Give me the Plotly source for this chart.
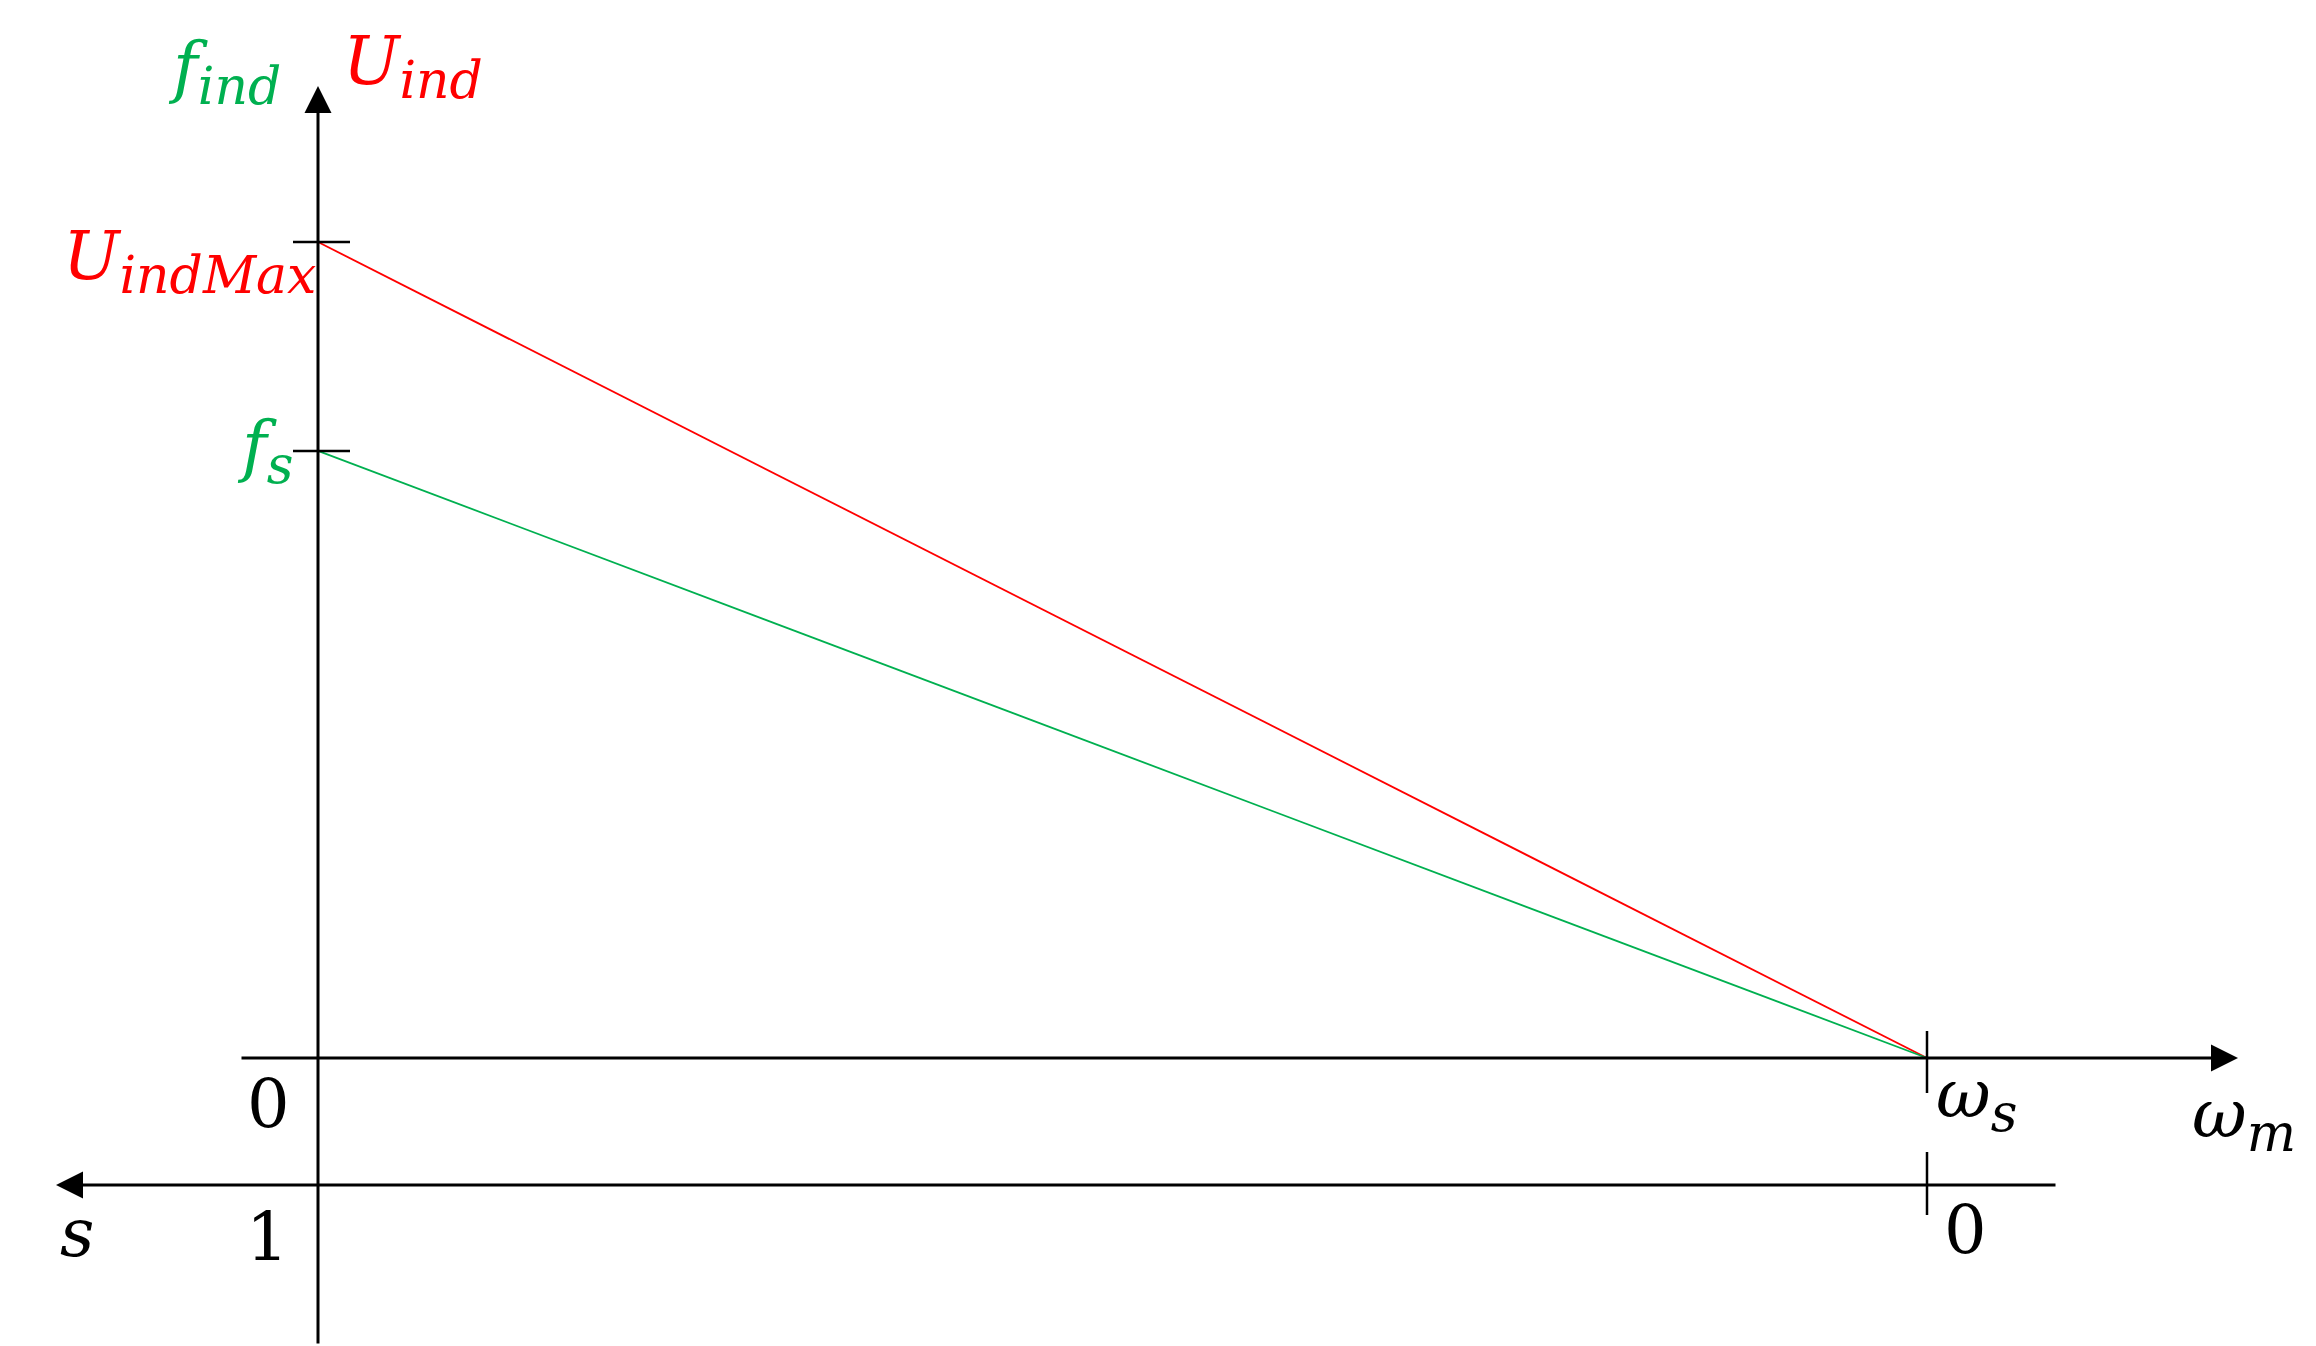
import plotly.graph_objects as go

# speed axis (per unit of synchronous speed) and the two induced quantities
omega_m = [0.0, 1.0]          # 0 ... omega_s
u_ind = [1.0, 0.0]            # U_indMax ... 0
f_ind = [0.744, 0.0]          # f_s ... 0
slip_ticks = [1, 0]           # slip at omega = 0 and omega = omega_s

RED = "#FF0000"
GREEN = "#00B050"
FONT = "DejaVu Serif"
W, H = 2316, 1346
PAGE_PAD = 8   # default body margin of the html page

# pixel layout of the drawing (origin and unit lengths)
X0, Y0 = 318, 1058
XU, YU = 1609, 816


def px_x(p):
    return (p - X0) / XU


def px_y(p):
    return (Y0 - p) / YU


fig = go.Figure()

fig.add_trace(go.Scatter(x=omega_m, y=u_ind, mode="lines",
                         line=dict(color=RED, width=1.8), hoverinfo="skip"))
fig.add_trace(go.Scatter(x=omega_m, y=f_ind, mode="lines",
                         line=dict(color=GREEN, width=1.8), hoverinfo="skip"))

s_axis_y = px_y(1185)


def arrow(x_tail, y_tail, x_tip, y_tip):
    return dict(x=x_tip, y=y_tip, ax=x_tail, ay=y_tail, xref="x", yref="y",
                axref="x", ayref="y", text="", showarrow=True, arrowhead=2,
                arrowsize=1.8, arrowwidth=3, arrowcolor="black", standoff=0)


annotations = [
    arrow(0, px_y(1345), 0, px_y(86)),             # vertical axis
    arrow(px_x(240), 0, px_x(2238), 0),            # omega_m axis
    arrow(px_x(2057), s_axis_y, px_x(56), s_axis_y),  # slip axis
]


def sub(main, low):
    return f"<i>{main}<sub><span style='font-size:52px'>{low}</span></sub></i>"


def label(text, cx, cy, color="black"):
    return dict(x=px_x(cx), y=px_y(cy), xref="x", yref="y", text=text,
                showarrow=False, xanchor="center", yanchor="middle",
                font=dict(family=FONT, size=67, color=color))


annotations += [
    label(sub("f", "ind"), 224, 72, GREEN),
    label(sub("U", "ind"), 413, 66, RED),
    label(sub("U", "indMax"), 189, 261, RED),
    label(sub("f", "s"), 265, 451, GREEN),
    label("0", 268, 1104),
    label(str(slip_ticks[0]), 267, 1237),
    label("<i>s</i>", 77, 1233),
    label(sub("ω", "s"), 1976, 1099),
    label(sub("ω", "m"), 2244, 1119),
    label(str(slip_ticks[1]), 1965, 1230),
]

tick = dict(color="black", width=2.5)
shapes = [
    # ticks on the vertical axis at U_indMax and f_s
    dict(type="line", x0=px_x(293), x1=px_x(350), y0=u_ind[0], y1=u_ind[0], line=tick),
    dict(type="line", x0=px_x(293), x1=px_x(350), y0=f_ind[0], y1=f_ind[0], line=tick),
    # tick at omega_s on both horizontal axes
    dict(type="line", x0=omega_m[1], x1=omega_m[1], y0=px_y(1031), y1=px_y(1093), line=tick),
    dict(type="line", x0=omega_m[1], x1=omega_m[1], y0=px_y(1152), y1=px_y(1215), line=tick),
]

fig.update_layout(
    width=W, height=H,
    margin=dict(l=0, r=0, t=0, b=0),
    paper_bgcolor="white", plot_bgcolor="white",
    showlegend=False,
    xaxis=dict(range=[px_x(PAGE_PAD), px_x(PAGE_PAD + W)], visible=False, fixedrange=True),
    yaxis=dict(range=[px_y(PAGE_PAD + H), px_y(PAGE_PAD)], visible=False, fixedrange=True),
    annotations=annotations,
    shapes=shapes,
)

fig.write_html("out.html")
